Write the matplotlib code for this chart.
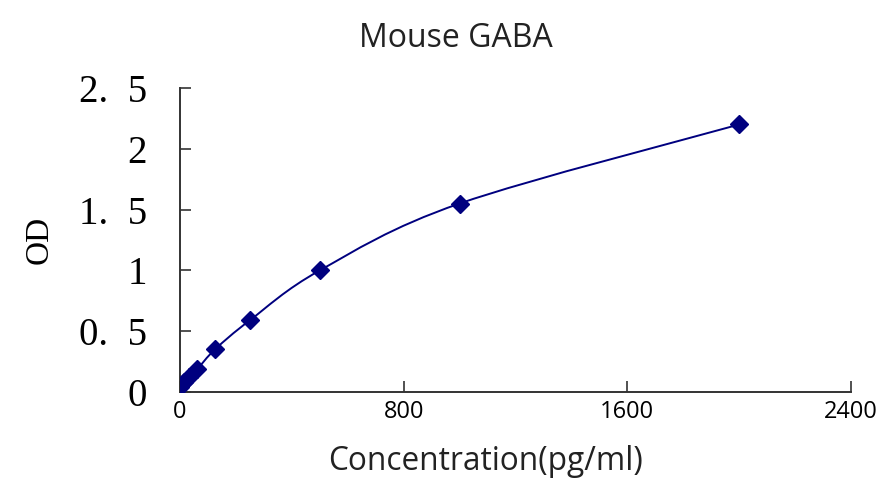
import numpy as np
import matplotlib.pyplot as plt
from matplotlib.path import Path
from matplotlib.patches import PathPatch

# standard curve data
conc = [0, 15.6, 31.25, 62.5, 125, 250, 500, 1000, 2000]
od = [0.04, 0.08, 0.12, 0.19, 0.35, 0.59, 1.0, 1.55, 2.2]

x_ticks = [0, 800, 1600, 2400]
y_ticks = [0, 0.5, 1, 1.5, 2, 2.5]
y_tick_labels = ['0', '0.  5', '1', '1.  5', '2', '2.  5']

navy = '#00007f'


def smooth_path(xs, ys, t=1 / 6):
    """Catmull-Rom style smoothed line (like a spreadsheet's smoothed line)"""
    pts = np.column_stack([xs, ys]).astype(float)
    verts = [pts[0]]
    codes = [Path.MOVETO]
    n = len(pts)
    for i in range(n - 1):
        p0 = pts[max(i - 1, 0)]
        p1 = pts[i]
        p2 = pts[i + 1]
        p3 = pts[min(i + 2, n - 1)]
        c1 = p1 + (p2 - p0) * t
        c2 = p2 - (p3 - p1) * t
        verts += [c1, c2, p2]
        codes += [Path.CURVE4] * 3
    return Path(verts, codes)


fig = plt.figure(figsize=(8.88, 4.82), dpi=100)
ax = fig.add_axes([0.2027, 0.1867, 0.7557, 0.6307])

ax.add_patch(PathPatch(smooth_path(conc, od), facecolor='none',
                       edgecolor=navy, lw=1.4, zorder=2))
ax.plot(conc, od, linestyle='none', marker='D', markersize=9,
        color=navy, zorder=3)

ax.set_xlim(0, 2400)
ax.set_ylim(0, 2.5)
ax.set_xticks(x_ticks)
ax.set_yticks(y_ticks)
ax.set_yticklabels(y_tick_labels, family='Liberation Serif', fontsize=28)
for lab in ax.get_xticklabels():
    lab.set_family('Open Sans')
    lab.set_fontsize(17)

ax.tick_params(axis='both', direction='in', length=8, width=1.2, color='#333333')
ax.tick_params(axis='y', pad=24)
ax.tick_params(axis='x', pad=6)

for s in ['top', 'right']:
    ax.spines[s].set_visible(False)
for s in ['left', 'bottom']:
    ax.spines[s].set_linewidth(1.4)
    ax.spines[s].set_color('#333333')

fig.text(456 / 888, 1 - 47 / 482, 'Mouse GABA', family='Open Sans',
         fontsize=23, ha='center', va='baseline', color='#222222')
fig.text(486 / 888, 1 - 470 / 482, 'Concentration(pg/ml)', family='Open Sans',
         fontsize=22.8, ha='center', va='baseline', color='#222222')
ax.set_ylabel('OD', family='Liberation Serif', fontsize=24, labelpad=17)

fig.savefig('out.png', dpi=100)
